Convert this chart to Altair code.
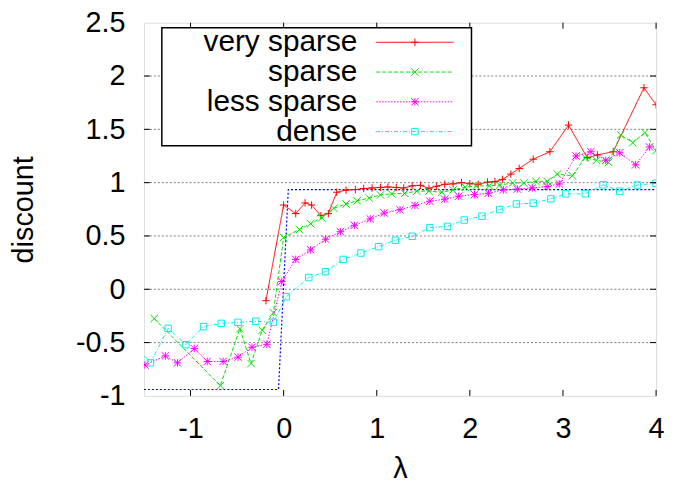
import altair as alt
import pandas as pd

# ---- data ----
vs_x = [-0.19, 0.0, 0.13, 0.23, 0.30, 0.40, 0.48, 0.57, 0.67, 0.77, 0.86, 0.95, 1.04, 1.12, 1.21, 1.29,
        1.38, 1.47, 1.56, 1.64, 1.73, 1.82, 1.91, 2.00, 2.09, 2.19, 2.27, 2.35, 2.44, 2.53, 2.68, 2.86,
        3.06, 3.26, 3.37, 3.54, 3.87, 4.0]
vs_y = [-0.107, 0.79, 0.71, 0.81, 0.79, 0.69, 0.71, 0.91, 0.93, 0.935, 0.945, 0.95, 0.955, 0.96, 0.955, 0.95,
        0.97, 0.975, 0.947, 0.966, 0.985, 0.988, 1.0, 0.99, 0.985, 1.005, 1.01, 1.03, 1.08, 1.133, 1.22, 1.29,
        1.54, 1.235, 1.26, 1.29, 1.89, 1.73]

sp_x = [-1.39, -0.68, -0.47, -0.35, -0.23, -0.11, 0.0, 0.17, 0.29, 0.41, 0.54, 0.67, 0.79, 0.92, 1.04, 1.16,
        1.30, 1.43, 1.56, 1.70, 1.82, 1.95, 2.07, 2.21, 2.32, 2.46, 2.58, 2.71, 2.83, 2.94, 3.10, 3.24, 3.36,
        3.49, 3.62, 3.75, 3.88, 4.0]
sp_y = [-0.274, -0.904, -0.37, -0.696, -0.383, -0.22, 0.485, 0.56, 0.615, 0.67, 0.76, 0.80, 0.83, 0.855, 0.885, 0.895,
        0.90, 0.92, 0.92, 0.91, 0.932, 0.957, 0.969, 0.97, 0.978, 0.997, 0.997, 1.012, 1.012, 1.08, 1.065, 1.235, 1.21,
        1.19, 1.447, 1.375, 1.47, 1.30]

ls_x = [-1.49, -1.27, -1.14, -0.96, -0.82, -0.65, -0.49, -0.34, -0.18, -0.02, 0.13, 0.29, 0.45, 0.61, 0.76, 0.93,
        1.08, 1.25, 1.41, 1.57, 1.73, 1.88, 2.05, 2.20, 2.36, 2.51, 2.67, 2.83, 2.96, 3.14, 3.30, 3.46, 3.61, 3.78, 3.93]
ls_y = [-0.71, -0.625, -0.69, -0.556, -0.677, -0.677, -0.637, -0.544, -0.516, 0.073, 0.28, 0.37, 0.47, 0.54, 0.60, 0.66,
        0.715, 0.746, 0.786, 0.826, 0.845, 0.873, 0.888, 0.901, 0.932, 0.94, 0.95, 0.963, 0.988, 1.25, 1.29, 1.21, 1.28, 1.167, 1.335]

de_x = [-1.62, -1.43, -1.24, -1.05, -0.86, -0.67, -0.49, -0.30, -0.11, 0.03, 0.27, 0.45, 0.64, 0.83, 1.02, 1.20,
        1.38, 1.57, 1.76, 1.94, 2.13, 2.32, 2.50, 2.68, 2.87, 3.03, 3.24, 3.43, 3.61, 3.80, 4.0]
de_y = [-0.50, -0.69, -0.367, -0.52, -0.35, -0.32, -0.31, -0.30, -0.31, -0.07, 0.11, 0.165, 0.28, 0.34, 0.40, 0.46,
        0.497, 0.578, 0.59, 0.649, 0.686, 0.748, 0.80, 0.808, 0.848, 0.895, 0.895, 0.98, 0.92, 0.978, 0.994]

step_x = [-1.5, -0.055, 0.05, 4.0]
step_y = [-0.94, -0.94, 0.935, 0.935]

series_names = ["very sparse", "sparse", "less sparse", "dense"]
x_ticks = [-1, 0, 1, 2, 3, 4]
y_ticks = [-1, -0.5, 0, 0.5, 1, 1.5, 2, 2.5]
grid_vals = [-0.5, 0, 0.5, 1, 1.5, 2]

# ---- styling ----
W, H = 516, 376
FONT = "Liberation Sans"
FS = 29
PLUS = "M-1,0L1,0M0,-1L0,1"
CROSS = "M-1,-1L1,1M-1,1L1,-1"
STAR = PLUS + CROSS
SQUARE = "M-1,-1L1,-1L1,1L-1,1Z"

styles = [
    dict(color="#ff0000", dash=[1, 0], shape=PLUS, size=56),
    dict(color="#00e000", dash=[4, 2], shape=CROSS, size=56),
    dict(color="#ff00ff", dash=[1.5, 1.5], shape=STAR, size=56),
    dict(color="#00eeee", dash=[4, 2, 1, 2], shape=SQUARE, size=42),
]
xs = [vs_x, sp_x, ls_x, de_x]
ys = [vs_y, sp_y, ls_y, de_y]

xscale = alt.Scale(domain=[-1.5, 4], nice=False, zero=False)
yscale = alt.Scale(domain=[-1, 2.5], nice=False, zero=False)

xaxis = alt.Axis(values=x_ticks, labelExpr="datum.value + ''", ticks=False, domain=False, grid=False,
                 labelFontSize=FS, labelFont=FONT, labelColor="black", labelPadding=19,
                 labelFlush=False, labelOverlap=False,
                 title="λ", titleFontSize=FS, titleFont=FONT, titleFontWeight="normal", titleColor="black",
                 titleX=W / 2, titleY=82, titleBaseline="alphabetic", titleAlign="center")
yaxis = alt.Axis(values=y_ticks, labelExpr="datum.value + ''", ticks=False, domain=False, grid=False,
                 labelFontSize=FS, labelFont=FONT, labelColor="black", labelPadding=19,
                 labelFlush=False, labelOverlap=False, labelBaseline="middle",
                 title="discount", titleFontSize=FS, titleFont=FONT, titleFontWeight="normal", titleColor="black",
                 titleAngle=270, titleX=-112, titleY=H / 2, titleBaseline="alphabetic", titleAlign="center")

layers = []

# grid
grid_df = pd.DataFrame({"y": grid_vals})
layers.append(alt.Chart(grid_df).mark_rule(color="#808080", strokeDash=[2, 2], strokeWidth=1).encode(
    y=alt.Y("y:Q", scale=yscale, axis=yaxis)))

# step reference line
step_df = pd.DataFrame({"x": step_x, "y": step_y})
layers.append(alt.Chart(step_df).mark_line(color="#0000ff", strokeDash=[2, 2], strokeWidth=1.2, clip=True).encode(
    x=alt.X("x:Q", scale=xscale, axis=xaxis), y=alt.Y("y:Q", scale=yscale, axis=yaxis), order="x:Q"))

# data series
for name, sx, sy, st in zip(series_names, xs, ys, styles):
    df = pd.DataFrame({"x": sx, "y": sy, "i": range(len(sx))})
    base = alt.Chart(df).encode(x=alt.X("x:Q", scale=xscale, axis=xaxis),
                                y=alt.Y("y:Q", scale=yscale, axis=yaxis))
    layers.append(base.mark_line(color=st["color"], strokeDash=st["dash"], strokeWidth=1, clip=True).encode(order="i:Q"))
    layers.append(base.mark_point(shape=st["shape"], size=st["size"], filled=False, color=st["color"],
                                  strokeWidth=1, opacity=1, clip=True))

# inward ticks
xt_df = pd.DataFrame({"x": x_ticks})
yt_df = pd.DataFrame({"y": y_ticks[1:-1]})
for y0, y1 in [(H, H - 6), (0, 6)]:
    layers.append(alt.Chart(xt_df).mark_rule(color="black", strokeWidth=1).encode(
        x=alt.X("x:Q", scale=xscale, axis=xaxis), y=alt.value(y0), y2=alt.value(y1)))
for x0, x1 in [(0, 6), (W, W - 6)]:
    layers.append(alt.Chart(yt_df).mark_rule(color="black", strokeWidth=1).encode(
        y=alt.Y("y:Q", scale=yscale, axis=yaxis), x=alt.value(x0), x2=alt.value(x1)))

# legend
one = pd.DataFrame({"a": [0]})
layers.append(alt.Chart(one).mark_rect(fill="white", stroke="black", strokeWidth=1.5).encode(
    x=alt.value(18), x2=alt.value(330), y=alt.value(5), y2=alt.value(124)))
row_y = [19.7, 49.7, 79.7, 109.7]
for name, st, ry in zip(series_names, styles, row_y):
    ldf = pd.DataFrame({"label": [name]})
    layers.append(alt.Chart(ldf).mark_text(align="right", baseline="middle", fontSize=30, font=FONT,
                                           color="black").encode(
        x=alt.value(215), y=alt.value(ry), text="label:N"))
    layers.append(alt.Chart(ldf).mark_rule(color=st["color"], strokeDash=st["dash"], strokeWidth=1).encode(
        x=alt.value(234), x2=alt.value(312), y=alt.value(ry)))
    layers.append(alt.Chart(ldf).mark_point(shape=st["shape"], size=st["size"], filled=False, color=st["color"],
                                            strokeWidth=1, opacity=1).encode(
        x=alt.value(273), y=alt.value(ry)))

chart = alt.layer(*layers).properties(
    width=W, height=H,
    padding={"left": 137, "top": 13, "right": 10, "bottom": 95},
    autosize=alt.AutoSizeParams(type="none"),
).configure_view(stroke="black", strokeWidth=1.5).configure(background="white")

chart.save("out.html", embed_options={"renderer": "svg", "actions": False})
